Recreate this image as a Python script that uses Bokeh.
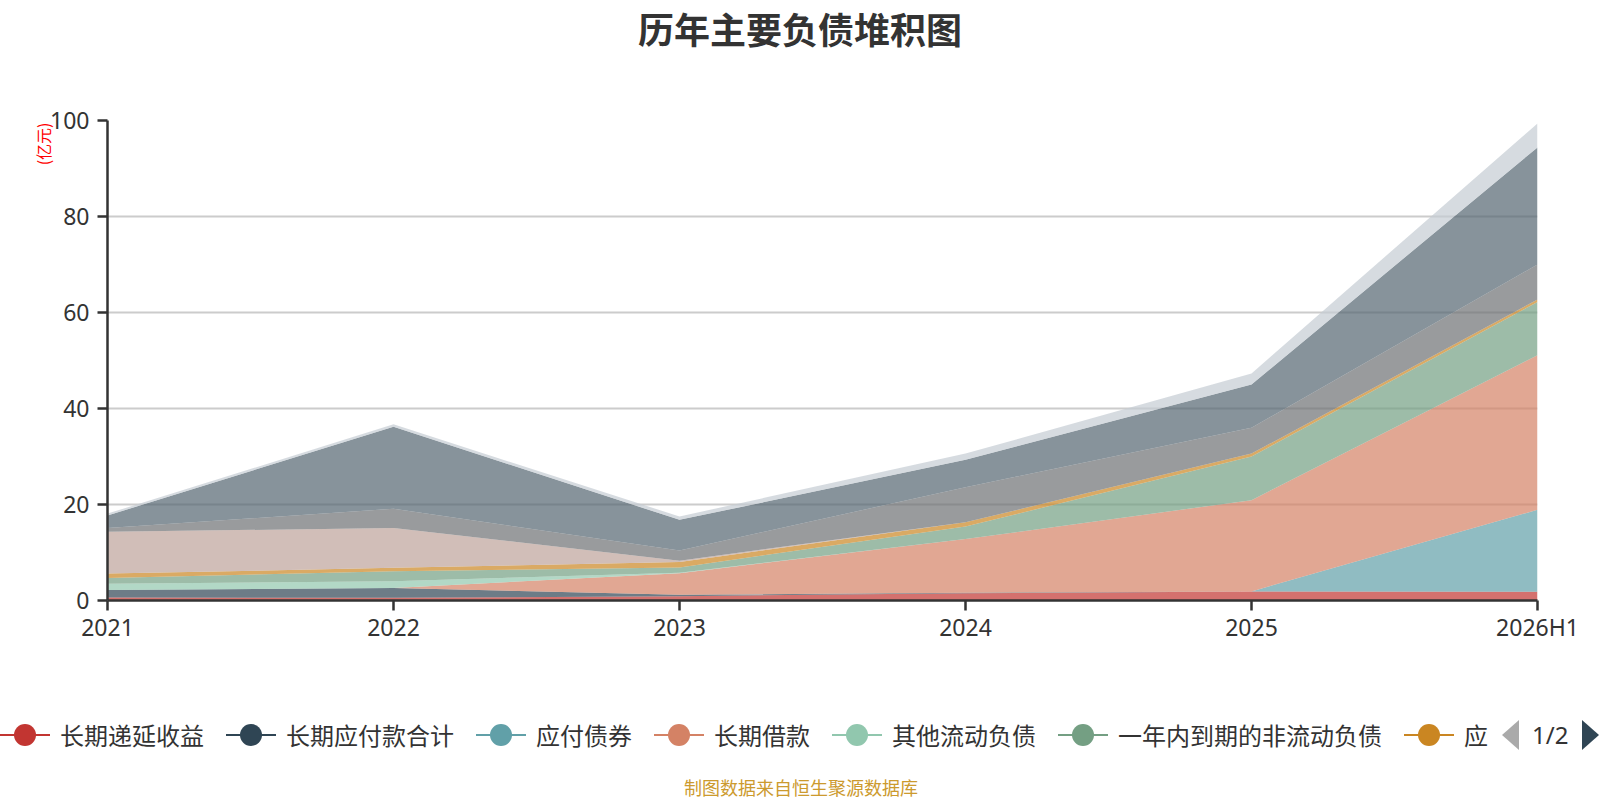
from bokeh.plotting import figure
from bokeh.models import ColumnDataSource, FixedTicker, Range1d, Title, Div
from bokeh.layouts import column
from bokeh.embed import file_html
from bokeh.resources import INLINE

# ---------------- data ----------------
years = ["2021", "2022", "2023", "2024", "2025", "2026H1"]

names = ["长期递延收益", "长期应付款合计", "应付债券", "长期借款", "其他流动负债",
         "一年内到期的非流动负债", "应交税费", "应付职工薪酬", "合同负债",
         "应付票据及应付账款", "短期借款"]

s_deferred = [0.65, 0.55, 0.9, 1.5, 1.9, 1.8]        # 长期递延收益
s_lt_payable = [1.55, 2.05, 0.3, 0.1, 0.0, 0.0]      # 长期应付款合计
s_bonds = [0.0, 0.0, 0.0, 0.0, 0.0, 17.1]            # 应付债券
s_lt_loan = [0.0, 0.0, 4.5, 11.2, 19.0, 32.2]        # 长期借款
s_other_cur = [1.3, 1.4, 0.1, 0.0, 0.0, 0.0]         # 其他流动负债
s_due_1y = [1.2, 2.1, 1.1, 2.6, 9.1, 11.1]           # 一年内到期的非流动负债
s_tax = [0.9, 0.7, 1.1, 0.9, 0.6, 0.5]               # 应交税费
s_salary = [8.7, 8.3, 0.3, 0.0, 0.0, 0.0]            # 应付职工薪酬
s_contract = [0.8, 4.0, 2.1, 7.3, 5.4, 7.3]          # 合同负债
s_ap = [2.6, 17.1, 6.4, 5.7, 9.0, 24.4]              # 应付票据及应付账款
s_st_loan = [0.4, 0.5, 0.7, 1.3, 2.3, 5.0]           # 短期借款

series = [s_deferred, s_lt_payable, s_bonds, s_lt_loan, s_other_cur, s_due_1y,
          s_tax, s_salary, s_contract, s_ap, s_st_loan]

y_ticks = [0, 20, 40, 60, 80, 100]
legend_shown = 7            # items visible on legend page 1
legend_last_label = "应"     # truncated label of the 7th item
page_text = "1/2"
title_text = "历年主要负债堆积图"
yname_text = "(亿元)"
source_text = "制图数据来自恒生聚源数据库"

colors = ['#c23531', '#2f4554', '#61a0a8', '#d48265', '#91c7ae', '#749f83',
          '#ca8622', '#bda29a', '#6e7074', '#546570', '#c4ccd3']

CJK = "Noto Sans CJK SC"
TXT = "#333333"
W = 1600

# ---------------- title strip ----------------
TH = 60
title_div = Div(
    text=(f'<div style="width:{W}px;height:{TH}px;box-sizing:border-box;padding-top:6px;'
          f'text-align:center;font-family:\'{CJK}\';font-weight:bold;font-size:36px;'
          f'line-height:44px;color:{TXT};white-space:nowrap;">{title_text}</div>'),
    width=W, height=TH, margin=(0, 0, 0, 0))

# ---------------- main chart ----------------
data = {"x": list(range(len(years)))}
for n, s in zip(names, series):
    data[n] = s
src = ColumnDataSource(data)

p = figure(width=1584, height=590, x_range=Range1d(0, len(years) - 1),
           y_range=Range1d(0, 100), output_backend="svg", toolbar_location=None,
           min_border_left=107, min_border_right=47, min_border_top=120 - TH,
           min_border_bottom=50, margin=(0, 0, 0, 0))
p.outline_line_color = None

p.varea_stack(stackers=names, x="x", color=colors, fill_alpha=0.7, source=src)

p.xgrid.visible = False
p.ygrid.ticker = FixedTicker(ticks=y_ticks)
p.ygrid.grid_line_color = "#cccccc"
p.ygrid.grid_line_width = 2

for ax in (p.xaxis[0], p.yaxis[0]):
    ax.axis_line_color = TXT
    ax.axis_line_width = 2.5
    ax.major_tick_line_color = TXT
    ax.major_tick_line_width = 2.5
    ax.major_tick_out = 10
    ax.major_tick_in = 0
    ax.minor_tick_line_color = None
    ax.major_label_text_font = "Noto Sans"
    ax.major_label_text_font_size = "23px"
    ax.major_label_text_color = TXT

p.yaxis.ticker = FixedTicker(ticks=y_ticks)
p.yaxis.major_label_standoff = 8
p.xaxis.ticker = FixedTicker(ticks=list(range(len(years))))
p.xaxis.major_label_overrides = {i: y for i, y in enumerate(years)}
p.xaxis.major_label_standoff = 0

yname = Title(text=yname_text, align="right", offset=2, standoff=0,
              text_font=CJK, text_font_size="16px", text_color="red",
              text_font_style="normal")
try:
    yname.standoff = -14
except Exception:
    pass
p.add_layout(yname, "left")

# ---------------- legend strip (page 1 of a scrolling legend) ----------------
LH = 146
ly = 85
labels = names[:legend_shown - 1] + [legend_last_label]
parts = []
s = 0
for lab, c in zip(labels, colors[:legend_shown]):
    parts.append(f'<div style="position:absolute;left:{s}px;top:{ly-1}px;width:50px;height:2px;background:{c};"></div>')
    parts.append(f'<div style="position:absolute;left:{s+14}px;top:{ly-11}px;width:22px;height:22px;border-radius:50%;background:{c};"></div>')
    parts.append(f'<div style="position:absolute;left:{s+60}px;top:{ly-14}px;font-size:24px;line-height:28px;color:{TXT};white-space:nowrap;">{lab}</div>')
    s = s + 60 + len(lab) * 24 + 22

parts.append(f'<div style="position:absolute;left:1502px;top:{ly-15}px;width:0;height:0;border-top:15px solid transparent;border-bottom:15px solid transparent;border-right:17px solid #aaaaaa;"></div>')
parts.append(f'<div style="position:absolute;left:1532px;top:{ly-14}px;font-family:\'Noto Sans\';font-size:24px;line-height:28px;color:{TXT};white-space:nowrap;">{page_text}</div>')
parts.append(f'<div style="position:absolute;left:1582px;top:{ly-15}px;width:0;height:0;border-top:15px solid transparent;border-bottom:15px solid transparent;border-left:17px solid #2f4554;"></div>')
parts.append(f'<div style="position:absolute;left:0;width:{W}px;top:{137-11}px;text-align:center;font-size:18px;line-height:22px;color:#cc9a2e;white-space:nowrap;padding-left:2px;box-sizing:border-box;">{source_text}</div>')

html = (f'<div style="position:relative;width:{W}px;height:{LH}px;'
        f'font-family:\'{CJK}\';overflow:visible;">' + "".join(parts) + '</div>')
leg = Div(text=html, width=W, height=LH, margin=(0, 0, 0, 0))

layout = column(title_div, p, leg, spacing=0)
open("out.html", "w").write(file_html(layout, INLINE))
